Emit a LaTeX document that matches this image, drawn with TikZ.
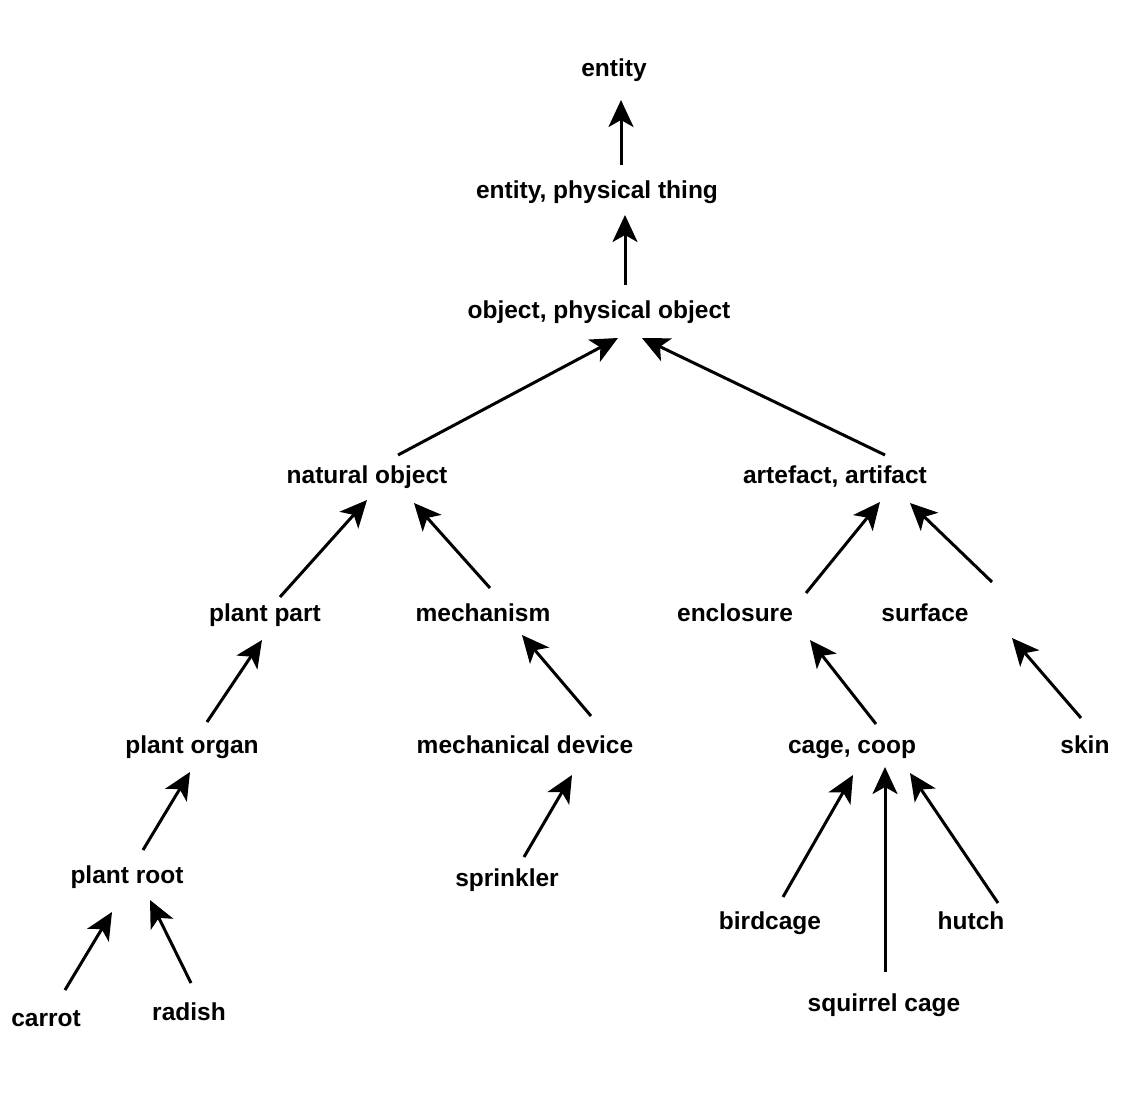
\documentclass[tikz,border=0pt]{standalone}
\usepackage{fontspec}
\setmainfont{Liberation Sans}
\usetikzlibrary{arrows.meta,calc}
\begin{document}
\begin{tikzpicture}[x=1pt,y=-1pt,
 lbl/.style={font=\bfseries\fontsize{24.5}{28}\selectfont, inner sep=0pt, text height=17pt, text depth=0.6pt},
 isa/.style={line width=3pt, -{Stealth[length=27pt,width=25pt,inset=7pt]}}]
\useasboundingbox[fill=white] (0,0) rectangle (1136,1100);
\node[lbl] (entity) at (614,68) {entity};
\node[lbl] (ept) at (597,190) {entity, physical thing};
\node[lbl] (obj) at (599,310) {object, physical object};
\node[lbl] (nat) at (367,475) {natural object};
\node[lbl] (art) at (835,475) {artefact, artifact};
\node[lbl] (pp) at (265,613) {plant part};
\node[lbl] (mech) at (483,613) {mechanism};
\node[lbl] (encl) at (735,613) {enclosure};
\node[lbl] (surf) at (925,613) {surface};
\node[lbl] (porg) at (192,745) {plant organ};
\node[lbl] (mdev) at (525,745) {mechanical device};
\node[lbl] (cage) at (852,745) {cage, coop};
\node[lbl] (skin) at (1085,745) {skin};
\node[lbl] (proot) at (127,875) {plant root};
\node[lbl] (spr) at (507,878) {sprinkler};
\node[lbl] (bird) at (770,921) {birdcage};
\node[lbl] (hutch) at (971,921) {hutch};
\node[lbl] (sq) at (884,1003) {squirrel cage};
\node[lbl] (carrot) at (46,1018) {carrot};
\node[lbl] (radish) at (189,1012) {radish};

\draw[isa] ($(ept)+(24,-25)$) -- ($(entity)+(7,32)$);
\draw[isa] ($(obj)+(26,-25)$) -- ($(ept)+(28,25)$);
\draw[isa] ($(nat)+(31,-20)$) -- ($(obj)+(19,28)$);
\draw[isa] ($(art)+(50,-20)$) -- ($(obj)+(43,28)$);
\draw[isa] ($(pp)+(15,-16)$) -- ($(nat)+(0,25)$);
\draw[isa] ($(mech)+(7,-25)$) -- ($(nat)+(47,28)$);
\draw[isa] ($(encl)+(71,-20)$) -- ($(art)+(45,27)$);
\draw[isa] ($(surf)+(67,-31)$) -- ($(art)+(75,28)$);
\draw[isa] ($(porg)+(15,-23)$) -- ($(pp)+(-3,27)$);
\draw[isa] ($(mdev)+(66,-29)$) -- ($(mech)+(39,22)$);
\draw[isa] ($(cage)+(24,-21)$) -- ($(encl)+(75,27)$);
\draw[isa] ($(skin)+(-4,-27)$) -- ($(surf)+(87,25)$);
\draw[isa] ($(proot)+(16,-25)$) -- ($(porg)+(-2,27)$);
\draw[isa] ($(spr)+(17,-21)$) -- ($(mdev)+(47,30)$);
\draw[isa] ($(bird)+(13,-24)$) -- ($(cage)+(1,30)$);
\draw[isa] ($(sq)+(1,-31)$) -- ($(cage)+(33,22)$);
\draw[isa] ($(hutch)+(27,-18)$) -- ($(cage)+(58,28)$);
\draw[isa] ($(carrot)+(19,-28)$) -- ($(proot)+(-15,37)$);
\draw[isa] ($(radish)+(2,-29)$) -- ($(proot)+(23,25)$);
\end{tikzpicture}
\end{document}
